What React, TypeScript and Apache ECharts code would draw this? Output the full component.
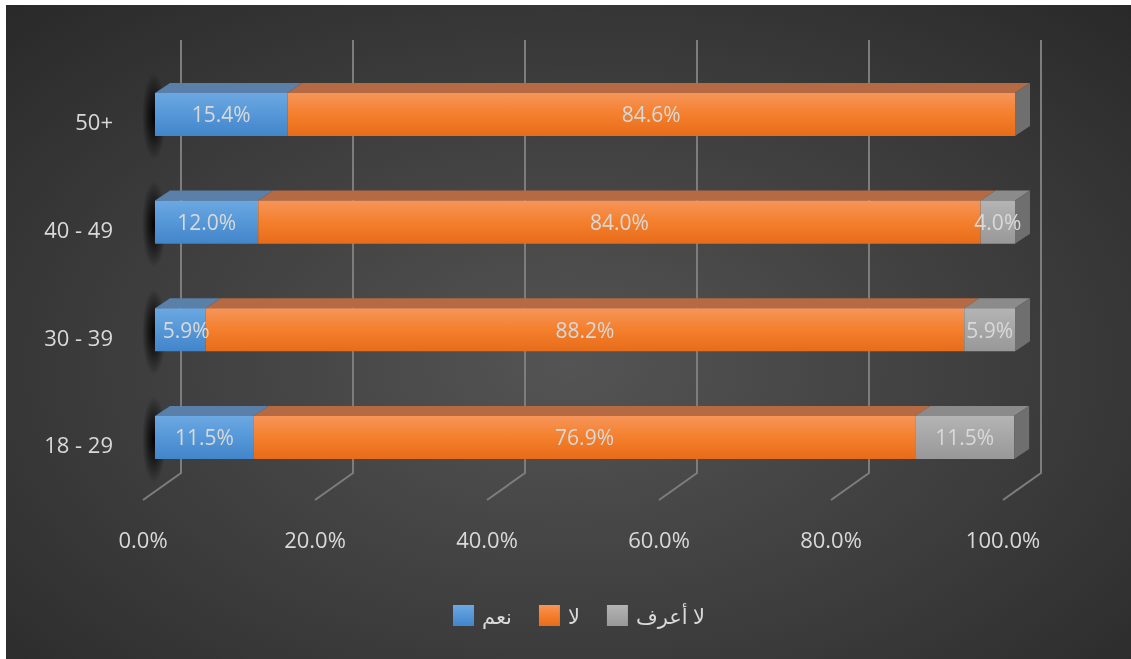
import React, { useEffect, useRef } from 'react';
import * as echarts from 'echarts';

const categories = ['18 - 29', '30 - 39', '40 - 49', '50+'];
const yesValues = [11.5, 5.9, 12.0, 15.4];
const noValues = [76.9, 88.2, 84.0, 84.6];
const dontKnowValues = [11.5, 5.9, 4.0, 0];
const seriesNames = ['نعم', 'لا', 'لا أعرف'];
const tickValues = [0, 20, 40, 60, 80, 100];
const tickLabels = ['0.0%', '20.0%', '40.0%', '60.0%', '80.0%', '100.0%'];

const FONT = "'Open Sans', 'Noto Sans', 'DejaVu Sans', sans-serif";
const TEXT = '#d9d9d9';
const DX = 15;
const DY = 10;

const styles = [
  { front: [['#6ca8e2', 0], ['#5597d8', 0.5], ['#4285c9', 1]], top: '#5a7fa8' },
  { front: [['#f6955a', 0], ['#f47f2c', 0.5], ['#e76c1a', 1]], top: '#b66a43' },
  { front: [['#b4b4b4', 0], ['#a6a6a6', 0.5], ['#989898', 1]], top: '#8b8b8b', side: '#6f6f6f' },
];

const grad = (stops: any[]) =>
  new echarts.graphic.LinearGradient(0, 0, 0, 1, stops.map(([c, o]) => ({ offset: o, color: c })));

export default function App() {
  const ref = useRef<HTMLDivElement>(null);
  useEffect(() => {
    if (!ref.current) return;
    const chart = echarts.init(ref.current, undefined, { renderer: 'svg' });
    const allValues = [yesValues, noValues, dontKnowValues];

    const barSeries = allValues.map((vals, k) => {
      const data = vals.map((v, i) => {
        let start = 0;
        for (let j = 0; j < k; j++) start += allValues[j][i];
        return [start, start + v, i, v];
      });
      return {
        type: 'custom',
        name: seriesNames[k],
        z: 2,
        clip: false,
        itemStyle: { color: grad(styles[k].front) },
        encode: { x: [0, 1], y: 2 },
        data,
        renderItem: (params: any, api: any) => {
          const start = api.value(0);
          const end = api.value(1);
          const cat = api.value(2);
          const val = api.value(3);
          const p0 = api.coord([start, cat]);
          const p1 = api.coord([end, cat]);
          const band = api.size([0, 1])[1];
          const h = band * 0.4;
          const yt = p0[1] - h / 2;
          const yb = p0[1] + h / 2;
          const x0 = p0[0];
          const x1 = p1[0];
          const children: any[] = [];
          if (k === 0) {
            children.push({
              type: 'ellipse',
              shape: { cx: x0 - 1, cy: p0[1] + 2, rx: 12, ry: h / 2 + 22 },
              style: {
                fill: new echarts.graphic.RadialGradient(0.5, 0.5, 0.5, [
                  { offset: 0, color: 'rgba(0,0,0,0.95)' },
                  { offset: 0.5, color: 'rgba(0,0,0,0.55)' },
                  { offset: 1, color: 'rgba(0,0,0,0)' },
                ]),
              },
              z2: -5,
            });
          }
          if (val > 0 || k === 2) {
            children.push({
              type: 'polygon',
              shape: { points: [[x0, yt], [x1, yt], [x1 + DX, yt - DY], [x0 + DX, yt - DY]] },
              style: { fill: styles[k].top },
            });
            children.push({
              type: 'rect',
              shape: { x: x0, y: yt, width: x1 - x0, height: h },
              style: { fill: grad(styles[k].front) },
            });
          }
          if (k === 2) {
            children.push({
              type: 'polygon',
              shape: { points: [[x1, yt], [x1 + DX, yt - DY], [x1 + DX, yb - DY], [x1, yb]] },
              style: { fill: styles[2].side },
            });
          }
          if (val > 0) {
            const text = val.toFixed(1) + '%';
            const tw = text.length * 0.55 * 21;
            let cx = (x0 + x1) / 2;
            if (k === 0) cx = Math.max(cx, x0 + tw / 2 + 8);
            children.push({
              type: 'text',
              z2: 100,
              style: {
                text,
                x: cx,
                y: p0[1],
                align: 'center',
                verticalAlign: 'middle',
                fill: TEXT,
                fontSize: 21,
                fontFamily: FONT,
              },
            });
          }
          return { type: 'group', children };
        },
      };
    });

    const gridSeries = {
      type: 'custom',
      z: 1,
      silent: true,
      clip: false,
      encode: { x: 0, y: 1 },
      data: tickValues.map((v) => [v, 0]),
      renderItem: (params: any, api: any) => {
        const x = api.coord([api.value(0), 0])[0];
        const cs = params.coordSys;
        const yTop = cs.y - 20.7;
        const yBase = cs.y + cs.height - 18.3;
        const yFloor = cs.y + cs.height + 8.7;
        return {
          type: 'polyline',
          shape: { points: [[x + 26, yTop], [x + 26, yBase], [x - 12, yFloor]] },
          style: { stroke: '#7d7d7d', lineWidth: 2, fill: null },
        };
      },
    };

    chart.setOption({
      animation: false,
      backgroundColor: 'transparent',
      grid: { left: 155, right: 116, top: 60.67, bottom: 167.7, containLabel: false },
      xAxis: {
        type: 'value',
        min: 0,
        max: 100,
        interval: 20,
        splitLine: { show: false },
        axisLine: { show: false },
        axisTick: { show: false },
        axisLabel: {
          formatter: (v: number) => tickLabels[tickValues.indexOf(v)] ?? '',
          color: TEXT,
          fontSize: 22,
          fontFamily: FONT,
          margin: 37,
          padding: [0, 24, 0, 0],
        },
      },
      yAxis: {
        type: 'category',
        data: categories,
        axisLine: { show: false },
        axisTick: { show: false },
        splitLine: { show: false },
        axisLabel: {
          color: TEXT,
          fontSize: 22,
          fontFamily: FONT,
          margin: 42,
          verticalAlign: 'top',
          lineHeight: 14,
        },
      },
      legend: {
        data: seriesNames,
        left: 448,
        top: 600,
        icon: 'rect',
        itemWidth: 21,
        itemHeight: 21,
        itemGap: 27,
        textStyle: { color: TEXT, fontSize: 21, fontFamily: FONT, padding: [0, 0, 0, 3] },
      },
      series: [gridSeries, ...barSeries],
    } as any);
    return () => chart.dispose();
  }, []);

  return (
    <>
      <div
        style={{
          position: 'fixed',
          left: 6,
          top: 5,
          width: 1125,
          height: 654,
          background: 'radial-gradient(ellipse 75% 80% at 50% 55%, #545454 0%, #3c3c3c 55%, #272727 100%)',
        }}
      />
      <div ref={ref} style={{ position: 'fixed', left: 0, top: 0, width: 1131, height: 659 }} />
    </>
  );
}
